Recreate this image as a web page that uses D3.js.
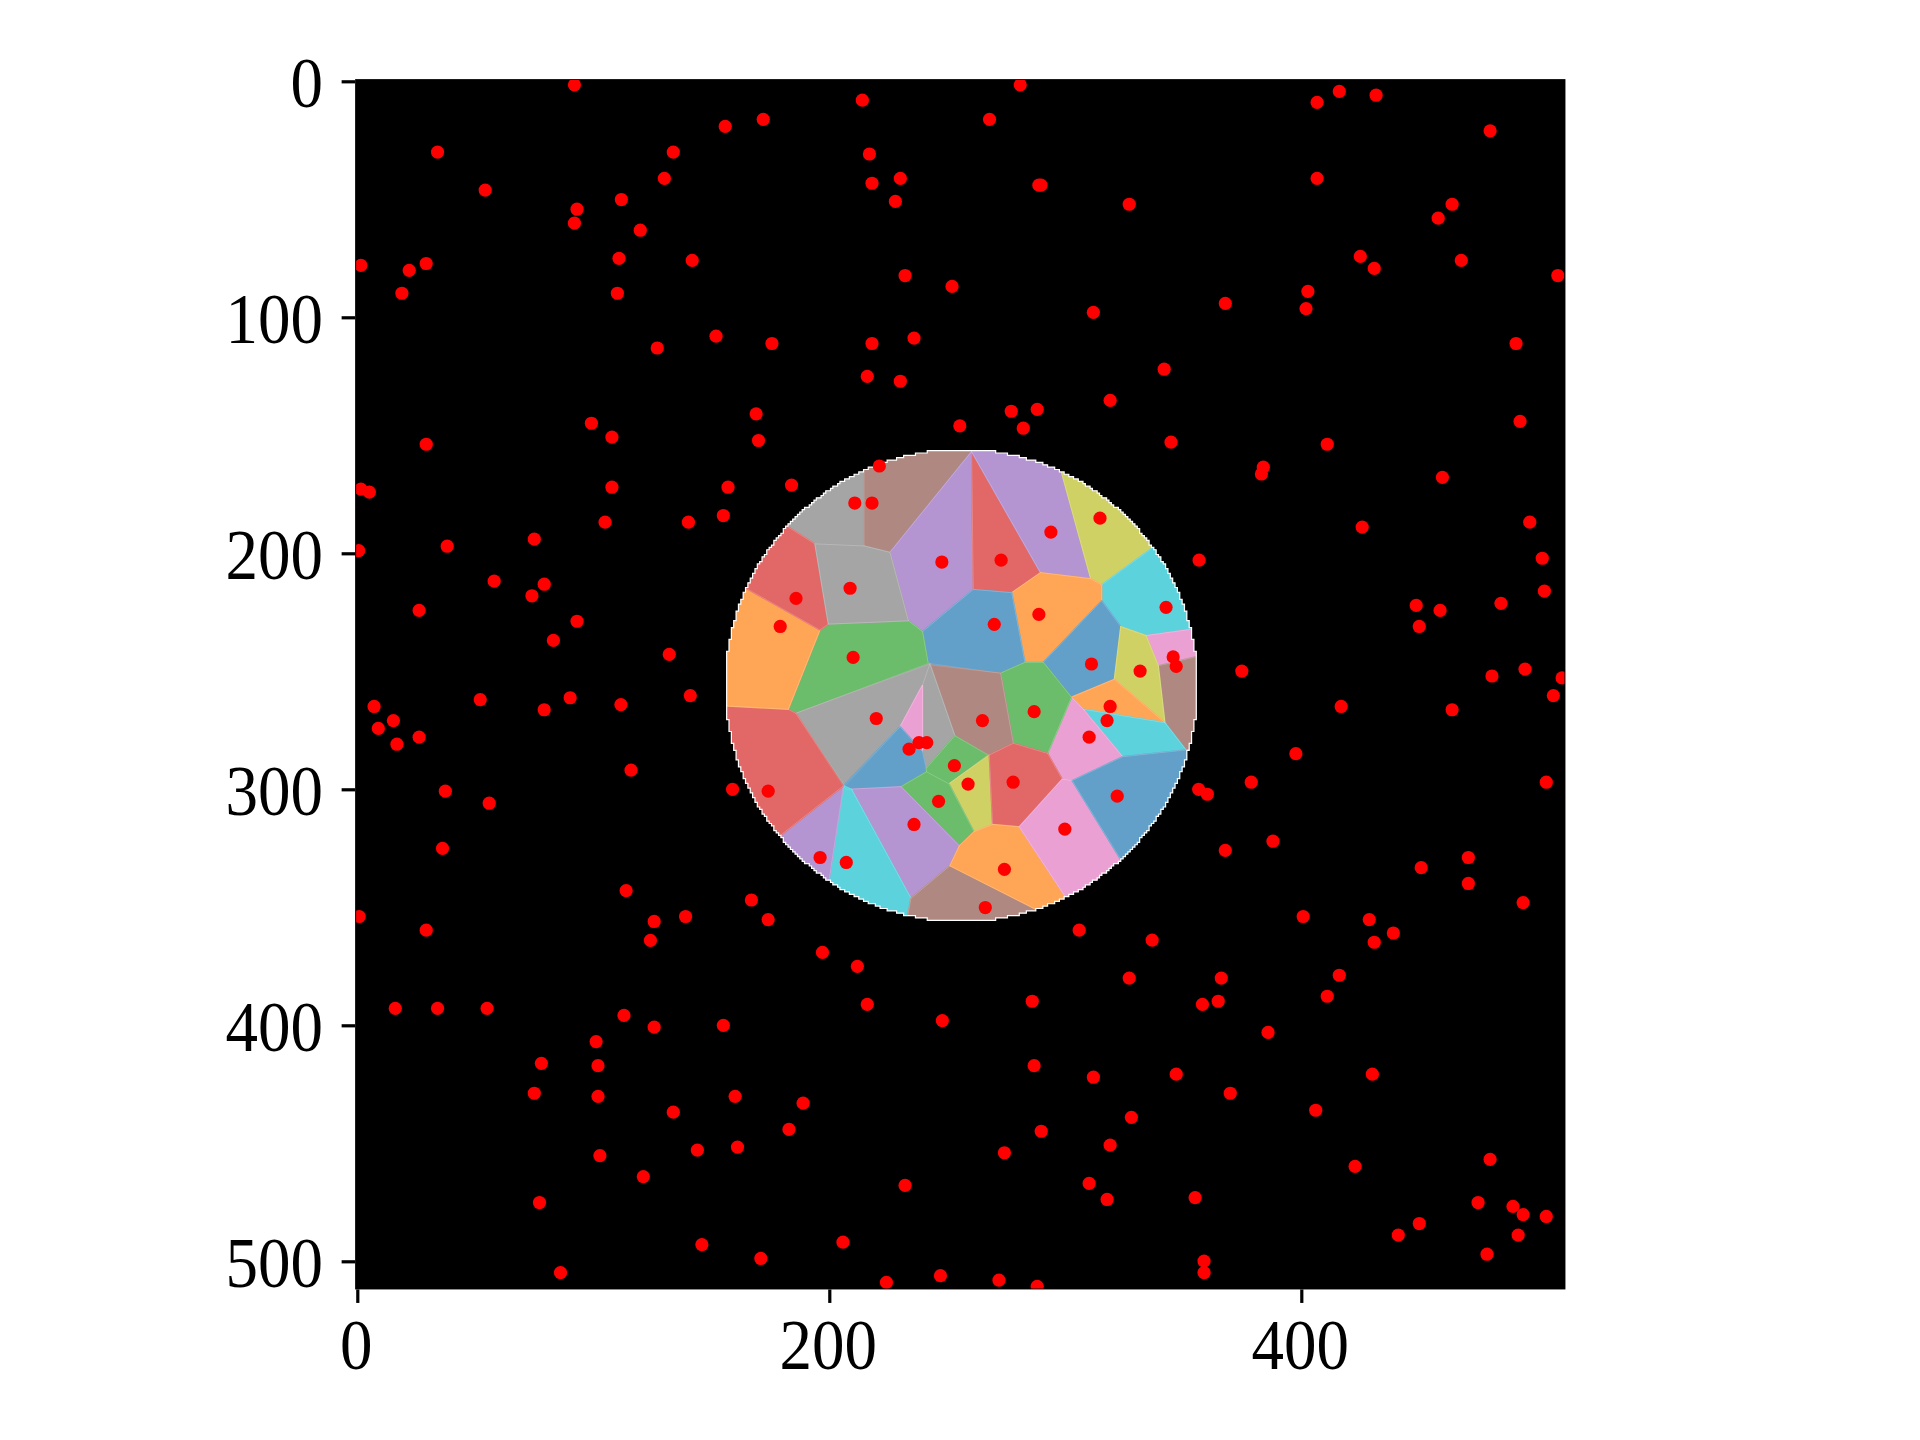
<!DOCTYPE html>
<html><head><meta charset="utf-8">
<script src="https://cdn.jsdelivr.net/npm/d3@7"></script>
<style>html,body{margin:0;padding:0;background:#fff}svg{display:block}</style>
</head><body>
<svg id="c" width="1920" height="1440"></svg>
<script>
const tickValuesX = [0, 200, 400];
const tickValuesY = [0, 100, 200, 300, 400, 500];
const imageExtent = [-0.5, 511.5];
const discCenter = [256, 256];
const discRadius = 99.99;
const cellPalette = ["#62a0ca","#ffa556","#6bbc6b","#e26868","#b494d1","#af8981","#eba0d4","#a5a5a5","#d0d164","#5cd2dd"];
const cellColorIndex = [7,5,4,3,4,8,9,1,0,0,6,5,8,1,9,6,2,5,2,7,7,6,0,2,8,3,2,4,9,4,3,1,3,7,5,1,6,0];
const cellVertices = [
[[214.7,154.8],[214.7,196.9],[193.9,196],[181.7,188.3],[170.7,173.2],[187.6,159]],
[[214.7,154.8],[258.2,154.8],[260.3,156.9],[225.7,199.6],[214.7,196.9]],
[[260.3,156.9],[261,215.3],[239.5,233.2],[233.5,228.6],[225.7,199.6]],
[[260.3,156.9],[289.5,208.2],[277.3,216.7],[261,215.3]],
[[260.3,153.4],[295.2,154.1],[298.4,166.1],[310.8,210.8],[289.5,208.2],[260.3,156.9]],
[[295.2,154.1],[310.8,210.8],[315.4,213.4],[336.6,197.9],[350,187.3],[328.8,161.8]],
[[315.4,213.4],[345.7,191.2],[361.2,231.1],[334.2,234.9],[323.5,231.1],[315.4,220.1]],
[[289.5,208.2],[310.8,210.8],[315.4,213.4],[315.4,220.1],[290.7,246.2],[282.9,246.2],[277.3,216.7]],
[[261,215.3],[277.3,216.7],[282.9,246.2],[272.6,250.8],[241.9,246.6],[239.5,233.2]],
[[315.4,220.1],[323.5,231.1],[320.8,253.4],[302.6,261],[290.7,246.2]],
[[334.2,234.9],[361.2,231.1],[361.2,242.4],[339.4,247.7]],
[[339.4,247.7],[361.2,242.4],[361.2,282.2],[351.1,283.3],[342.2,271.8]],
[[323.5,231.1],[334.2,234.9],[339.4,247.7],[342.2,271.8],[320.8,253.4]],
[[302.6,261],[320.8,253.4],[342.2,271.8],[307.6,266.1]],
[[307.6,266.1],[342.2,271.8],[351.1,283.3],[324.3,286.2]],
[[302.6,261],[307.6,266.1],[324.3,286.2],[302.9,296.3],[298.7,295.7],[292.5,284.8]],
[[272.6,250.8],[282.9,246.2],[290.7,246.2],[302.6,261],[292.5,284.8],[278,280.5]],
[[242.9,247.3],[272.6,250.8],[278,280.5],[267.7,285.5],[253.2,277.3]],
[[199.6,230],[233.5,228.6],[239.5,233.2],[241.9,246.6],[185.8,267.8],[182.6,266.1],[196,232.5]],
[[185.8,267.8],[242.6,246.9],[239.5,255.8],[230,273.5],[206.6,298.6]],
[[242.6,246.9],[253.2,277.3],[241.2,291],[239.5,284],[239.5,255.8]],
[[239.5,255.8],[239.5,284],[230,273.5]],
[[230,273.5],[239.5,284],[241.2,292.6],[230.4,298.9],[207,300],[205.9,298.6]],
[[253.2,277.3],[267,285.5],[250.7,297.7],[241.2,292.6],[241.2,291]],
[[267.8,285.5],[269.2,314.9],[261.3,318],[250.7,297.7]],
[[267.8,285.5],[278,280.5],[292.5,284.8],[298.7,295.7],[280.5,315.9],[269.2,314.9]],
[[230.4,298.9],[241.2,292.6],[250.7,297.7],[261.3,318],[255.1,324]],
[[209.4,300],[230.4,298.9],[255.1,324],[251.1,332.4],[234.6,346.2]],
[[206.2,298.6],[209.4,300],[234.6,346.2],[232.1,359.5],[197.4,345.5],[200,337.7]],
[[205.9,298.6],[200,337.7],[197.4,345.5],[173.5,325.7],[179.8,319.1]],
[[182.6,266.1],[185.8,267.8],[205.9,298.6],[179.8,319.1],[173.5,325.7],[150.8,289],[150.8,264.3],[156.8,264.7]],
[[165.6,215.3],[196,232.5],[182.6,266.1],[156.8,264.7],[150.8,264.3],[150.8,218.4],[159.3,211.3]],
[[181.7,188.3],[193.9,196],[199.6,230],[196,232.5],[165.6,215.3],[159.3,211.3],[170.7,181.7]],
[[193.9,196],[214.7,196.9],[225.7,199.6],[233.5,228.6],[199.6,230]],
[[234.6,346.2],[251.1,332.4],[294.9,354.6],[286.4,362.4],[232.1,362.4],[232.1,359.5]],
[[251.1,332.4],[255.1,324],[261.3,318],[269.2,314.9],[280.5,315.9],[302.6,349.4],[294.9,354.6]],
[[280.5,315.9],[298.7,295.7],[302.9,296.3],[328.8,338.4],[302.6,349.4]],
[[302.9,296.3],[324.3,286.2],[351.1,283.3],[361.2,282.2],[361.2,317.3],[328.8,338.4]]
];
const redPointsUpperLeft = [
[92,1.5],[214,8],[172,16.1],[155.9,19.1],[34,30],[133.9,30],[217,30.8],[130.1,41.1],[230.1,41.1],[218.1,43.2],[54.2,46.1],[111.9,50.1],[228,50.9],[93.1,54.2],[92,60.1],[119.9,63.1],[110.9,75],[141.9,75.9],[29.2,77.2],[1.5,78],[22,80.1],[232.1,82.3],[252,86.9],[18.9,89.8],[110.2,89.8],[152,108],[235.9,108.8],[175.7,111.1],[218.1,111.1],[127.1,113],[216.1,125],[230.1,127.1],[169,140.9],[255.3,146],[99.2,144.9],[107.9,150.8],[29.2,153.8],[170,152.2],[221.2,163],[184,171.1],[107.9,172],[157.1,172],[1.5,172.8],[5.1,174.1],[210.8,178.7],[218.1,178.7],[155.1,184],[105,186.8],[140.3,186.8],[0.6,198.9],[75,194],[38.1,197],[79.2,213.1],[58,211.8],[74,218],[26.2,224.2],[93.1,228.8],[83.1,236.9],[132.2,242.8],[247.7,203.7],[208.8,214.8],[185.9,219.1],[179.2,231],[210.1,244.1]
];
const redPointsUpperRight = [
[280.9,1.5],[267.9,16.1],[416.1,4.3],[431.7,5.9],[406.7,8.9],[480,21],[288.8,44],[289.7,44],[406.7,41.1],[327.1,52.1],[463.9,52.1],[458,58],[425,74.2],[430.9,79.3],[467.8,75.9],[508.7,82.3],[402.8,89],[367.8,94.1],[402,96.3],[311.9,97.9],[491,111.1],[341.9,122],[319,135.2],[277.1,139.8],[288.1,139],[282.2,147],[492.7,144.1],[344.8,152.9],[411,153.8],[383.9,163.5],[383.1,166.4],[459.8,167.8],[425.8,188.9],[496.8,186.8],[314.7,185.1],[293.9,191],[272.8,202.9],[356.7,202.9],[502.1,202.1],[503,216],[448.7,222.1],[484.6,221.2],[458.8,224.2],[342.7,222.9],[288.8,225.9],[269.9,230.1],[450,231],[345.7,243.9],[347,247.9],[311.1,246.9],[331.7,249.9],[374.8,249.9],[480.8,252],[494.8,249.1],[510.5,252.8]
];
const redPointsLowerLeft = [
[7.1,264.9],[52.1,262],[90.2,261.2],[141.1,260.3],[79.2,266.3],[111.7,264.1],[15.3,270.9],[8.9,274.2],[26.2,277.9],[16.8,280.9],[219.9,270],[116,291.9],[37.3,300.8],[159,300],[174.1,300.8],[55.9,305.9],[36.1,325],[113.9,342.9],[167,346.9],[0.8,353.9],[139.1,353.9],[174.1,355.2],[125.8,356],[124.2,364],[29.2,359.7],[197.1,369.1],[211.9,375],[16.1,392.8],[34,392.8],[55,392.8],[113,395.8],[125.8,400.8],[155.1,400],[216.1,391.1],[247.9,398],[101.2,406.9],[78,416.1],[102,417.1],[75,428.8],[102,430.1],[160.1,430.1],[188.9,433],[133.9,436.8],[182.9,444.1],[161.1,451.6],[144.1,452.9],[102.8,455.2],[121.2,464.1],[232.1,467.8],[77.2,475.1],[205.8,491.9],[146,492.9],[171,498.8],[86.1,504.8],[247.1,506.1],[224.2,508.9],[233.8,283],[238,280.2],[241.3,280.2],[253,290],[246.3,305.1],[235.9,314.9],[196.1,328.9],[207.2,331]
];
const redPointsLowerRight = [
[506.8,260.3],[416.9,264.9],[463.9,266.3],[319,264.9],[317.7,270.9],[286.8,267.1],[264.9,270.9],[310.1,277.9],[397.7,284.9],[277.9,297],[258.8,297.8],[378.8,297],[503.8,297],[356.5,300],[360.2,302.1],[322,302.9],[299.8,316.9],[388,322],[367.8,325.9],[274.2,333.9],[470.8,328.9],[450.8,333.2],[470.8,339.9],[494,348],[266.1,350.1],[400.8,353.9],[428.8,355.2],[439,360.9],[305.9,359.7],[430.9,364.8],[336.8,363.9],[327.1,380],[366.1,380],[416.1,378.8],[286,389.8],[364.8,389.8],[358.1,391.1],[411,387.7],[385.9,403],[286.8,417.1],[311.9,422],[347,420.7],[430.1,420.7],[369.9,428.8],[406.1,436],[328,439],[289.8,444.9],[319,450.8],[274.2,454],[480,456.8],[422.8,459.8],[310.1,467],[317.7,473.8],[355,473],[474.9,475.1],[489.7,476.7],[494,480.2],[503.8,481],[450,484],[441.1,488.9],[491.9,488.9],[478.7,497],[358.8,499.9],[358.8,504.8],[271.9,508],[288.1,510.6]
];
const redPoints = [...redPointsUpperLeft, ...redPointsUpperRight, ...redPointsLowerLeft, ...redPointsLowerRight];

const svg = d3.select("#c");
const x = d3.scaleLinear().domain([0, 500]).range([357.3, 357.3 + 500 * 2.36]);
const y = d3.scaleLinear().domain([0, 500]).range([81.3, 81.3 + 500 * 2.36]);
const axLeft = x(imageExtent[0]), axRight = x(imageExtent[1]), axTop = y(imageExtent[0]), axBottom = y(imageExtent[1]);

// pixel-grid staircase outline of the disc: image pixels are centred on integers
function stairs(r) {
  const [cx, cy] = discCenter, L = [], R = [];
  for (let j = Math.ceil(cy - r); j <= Math.floor(cy + r); j++) {
    const h = Math.sqrt(Math.max(0, r * r - (j - cy) * (j - cy)));
    const a = Math.ceil(cx - h) - 0.5, b = Math.floor(cx + h) + 0.5;
    L.push([a, j - 0.5], [a, j + 0.5]);
    R.push([b, j - 0.5], [b, j + 0.5]);
  }
  const pts = [...L, ...R.reverse()];
  return d3.line().x(d => x(d[0])).y(d => y(d[1]))(pts) + "Z";
}

const defs = svg.append("defs");
defs.append("clipPath").attr("id", "axclip").append("rect")
  .attr("x", axLeft).attr("y", axTop).attr("width", axRight - axLeft).attr("height", axBottom - axTop);
defs.append("clipPath").attr("id", "disc").append("path").attr("d", stairs(discRadius));

svg.append("rect").attr("x", axLeft).attr("y", axTop).attr("width", axRight - axLeft).attr("height", axBottom - axTop)
  .attr("fill", "#000").attr("stroke", "#000").attr("stroke-width", 2);

svg.append("path").attr("d", stairs(discRadius)).attr("fill", cellPalette[7]);

const polyLine = d3.line().x(d => x(d[0])).y(d => y(d[1])).curve(d3.curveLinearClosed);
const cells = svg.append("g").attr("clip-path", "url(#disc)");
cells.selectAll("path.fill").data(cellVertices).join("path").attr("class", "fill")
  .attr("d", polyLine)
  .attr("fill", (d, i) => cellPalette[cellColorIndex[i]])
  .attr("stroke", (d, i) => cellPalette[cellColorIndex[i]]).attr("stroke-width", 1.4);
cells.selectAll("path.edge").data(cellVertices).join("path").attr("class", "edge")
  .attr("d", polyLine).attr("fill", "none")
  .attr("stroke", "#ffffff").attr("stroke-opacity", 0.14).attr("stroke-width", 0.8);

svg.append("path").attr("d", stairs(discRadius)).attr("fill", "none")
  .attr("stroke", "#fff").attr("stroke-width", 1.2);

svg.append("g").attr("clip-path", "url(#axclip)").selectAll("circle").data(redPoints).join("circle")
  .attr("cx", d => x(d[0])).attr("cy", d => y(d[1])).attr("r", 6.6).attr("fill", "#ff0000");

const gy = svg.append("g").attr("transform", `translate(${axLeft - 1},0)`)
  .call(d3.axisLeft(y).tickValues(tickValuesY).tickSize(13.5).tickPadding(18.5).tickFormat(d3.format("d")));
const gx = svg.append("g").attr("transform", `translate(0,${axBottom + 1})`)
  .call(d3.axisBottom(x).tickValues(tickValuesX).tickSize(13.5).tickPadding(18).tickFormat(d3.format("d")));
for (const g of [gy, gx]) {
  g.select(".domain").remove();
  g.selectAll("line").attr("stroke", "#000").attr("stroke-width", 3.2);
  g.selectAll("text").attr("fill", "#000")
    .attr("font-family", "'Liberation Serif', serif").attr("font-size", 71)
    .attr("lengthAdjust", "spacingAndGlyphs")
    .attr("textLength", d => String(d).length * 32.5);
}
gy.selectAll("text").attr("dy", 25);
gx.selectAll("text").attr("dy", 48).attr("dx", -1.5);
</script>
</body></html>
